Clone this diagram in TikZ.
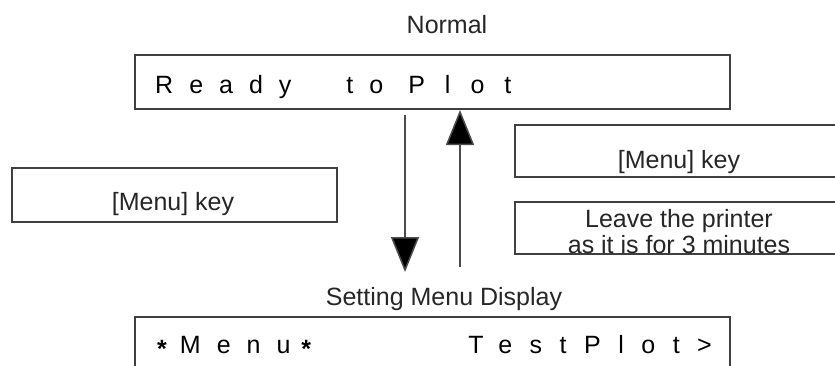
\documentclass[tikz,border=0pt]{standalone}
\usepackage{fontspec}
\setmainfont{Liberation Sans}
% widely tracked faces for the two display panels
\newfontfamily\lcdfont[LetterSpace=64]{Liberation Sans}
\newfontfamily\lcdwidefont[LetterSpace=70]{Liberation Sans}
\newfontfamily\lcdwiderfont[LetterSpace=80]{Liberation Sans}
\usetikzlibrary{arrows.meta}

\begin{document}
\begin{tikzpicture}[x=1pt,y=-1pt,
  frame/.style={draw=black!75, line width=1.5pt, rectangle, inner sep=0pt},
  caption/.style={font=\fontsize{25}{26}\selectfont, inner sep=0pt, text=black!85},
  lcd/.style={font=\lcdfont\fontsize{25}{26}\selectfont, inner sep=0pt, text=black},
  lcdwide/.style={font=\lcdwidefont\fontsize{25}{26}\selectfont, inner sep=0pt, text=black},
  flow/.style={draw=black!70, line width=1.5pt, -{Triangle[width=28pt,length=35pt,fill=black]}},
]
\useasboundingbox (0,0) rectangle (835,365);
\clip (0,0) rectangle (835,365);

% upper display: normal state
\node[caption, anchor=base] (normal) at (447,33) {Normal};
\node[frame, minimum width=595pt, minimum height=54pt] (readybox) at (432.5,82) {};
\node[lcd, anchor=base west] (readytext) at (155,93)
  {Ready\hspace{55pt}to\hspace{25pt}{\lcdwiderfont Plot}};

% key operations
\node[frame, minimum width=325pt, minimum height=54pt] (leftkey) at (174.5,195) {};
\node[caption, anchor=base] (leftkeytext) at (173,210) {[Menu] key};
\node[frame, minimum width=330pt, minimum height=52pt] (rightkey) at (680,151) {};
\node[caption, anchor=base] (rightkeytext) at (679,168) {[Menu] key};
\node[frame, minimum width=330pt, minimum height=52pt] (waitbox) at (680,228) {};
\node[caption, anchor=base, align=center] (waittext) at (679,253) {Leave the printer\\as it is for 3 minutes};

% transitions between the two displays
\coordinate (downstart) at (405,115);
\coordinate (downend) at (405,272);
\coordinate (upstart) at (460,267);
\coordinate (upend) at (460,110);
\draw[flow] (downstart) -- (downend);
\draw[flow] (upstart) -- (upend);

% lower display: setting menu
\node[caption, anchor=base] (settinglabel) at (444,305) {Setting Menu Display};
\node[frame, minimum width=595pt, minimum height=54pt] (menubox) at (432.5,344) {};
\node[lcd, anchor=base west] (menutext) at (157,353)
  {\raisebox{-4pt}{\bfseries *}\hspace{13pt}Menu\hspace{11pt}\raisebox{-4pt}{\bfseries *}};
\node[lcdwide, anchor=base east] (testtext) at (712,353) {TestPlot>};
\end{tikzpicture}
\end{document}
